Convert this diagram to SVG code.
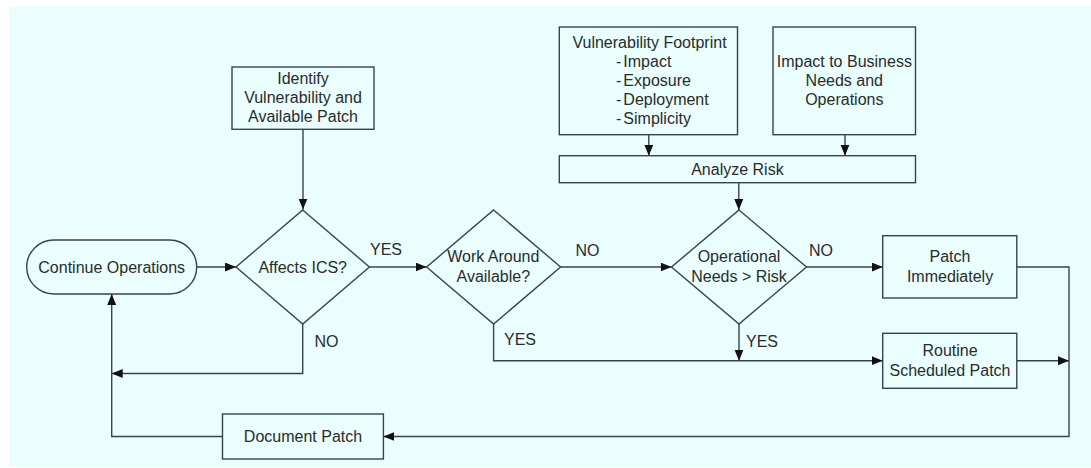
<svg xmlns="http://www.w3.org/2000/svg" width="1091" height="468" viewBox="0 0 1091 468">
<defs>
<marker id="arr" markerUnits="userSpaceOnUse" markerWidth="12" markerHeight="10" refX="11" refY="4.5" orient="auto">
<path d="M0,0 L11,4.5 L0,9 z" fill="#111"/>
</marker>
<style>
.bx{fill:#EAFEFE;stroke:#3a4250;stroke-width:1.4}
.ln{fill:none;stroke:#3a4250;stroke-width:1.4}
.ar{marker-end:url(#arr)}
text{font-family:"Liberation Sans",Arial,sans-serif;font-size:16px;fill:#2b2b2b}
.c{text-anchor:middle}
</style>
</defs>
<rect x="9" y="6" width="1082" height="461" fill="#EAFEFE"/>
<g id="connectors">
<path class="ln ar" d="M303,129.3 V209.5"/>
<path class="ln ar" d="M196.7,267 H236"/>
<path class="ln ar" d="M369.4,267 H426.6"/>
<path class="ln ar" d="M560.6,267 H671.5"/>
<path class="ln ar" d="M806.5,267 H882.7"/>
<path class="ln ar" d="M648.8,134.7 V155.7"/>
<path class="ln ar" d="M845,134.7 V155.7"/>
<path class="ln ar" d="M738.8,182.7 V210"/>
<path class="ln ar" d="M302.7,324 V373.5 H111.7"/>
<path class="ln ar" d="M222.5,436.5 H111.7 V294"/>
<path class="ln ar" d="M493.6,324 V360.7 H882.7"/>
<path class="ln ar" d="M739,324 V360.7"/>
<path class="ln ar" d="M1016.8,267 H1069 V436.5 H383.4"/>
<path class="ln ar" d="M1016.8,360.7 H1069"/>
<text x="370" y="255">YES</text>
<text x="575.5" y="256">NO</text>
<text x="809" y="255.5">NO</text>
<text x="314.5" y="347">NO</text>
<text x="504" y="344.5">YES</text>
<text x="746" y="347">YES</text>
</g>
<g id="identify">
<rect class="bx" x="232" y="67" width="142" height="62.3"/>
<text class="c" x="303" y="83.5">Identify</text>
<text class="c" x="303" y="102.5">Vulnerability and</text>
<text class="c" x="303" y="121.5">Available Patch</text>
</g>
<g id="footprint">
<rect class="bx" x="559.3" y="27" width="178.2" height="107.7"/>
<text class="c" x="649.5" y="48">Vulnerability Footprint</text>
<text x="616" y="67">-<tspan dx="2">Impact</tspan></text>
<text x="616" y="86">-<tspan dx="2">Exposure</tspan></text>
<text x="616" y="105">-<tspan dx="2">Deployment</tspan></text>
<text x="616" y="124">-<tspan dx="2">Simplicity</tspan></text>
</g>
<g id="impact">
<rect class="bx" x="773" y="27" width="142.5" height="107.7"/>
<text class="c" x="844.3" y="67">Impact to Business</text>
<text class="c" x="844.3" y="86">Needs and</text>
<text class="c" x="844.3" y="105">Operations</text>
</g>
<g id="analyze">
<rect class="bx" x="559.3" y="155.7" width="356.2" height="27"/>
<text class="c" x="737.4" y="174.5">Analyze Risk</text>
</g>
<g id="continue">
<rect class="bx" x="26.7" y="240" width="170" height="54" rx="27" ry="27"/>
<text class="c" x="111.7" y="272.5">Continue Operations</text>
</g>
<g id="affects">
<polygon class="bx" points="302.7,210 369.4,267 302.7,324 236,267"/>
<text class="c" x="302.7" y="272.5">Affects ICS?</text>
</g>
<g id="workaround">
<polygon class="bx" points="493.6,210 560.6,267 493.6,324 426.6,267"/>
<text class="c" x="493.3" y="261.5">Work Around</text>
<text class="c" x="493.3" y="281.5">Available?</text>
</g>
<g id="operational">
<polygon class="bx" points="739,210 806.5,267 739,324 671.5,267"/>
<text class="c" x="739" y="262">Operational</text>
<text class="c" x="739" y="281.5">Needs &gt; Risk</text>
</g>
<g id="patchnow">
<rect class="bx" x="882.7" y="235.7" width="134.1" height="62.3"/>
<text class="c" x="950" y="262">Patch</text>
<text class="c" x="950" y="282">Immediately</text>
</g>
<g id="routine">
<rect class="bx" x="882.7" y="333.3" width="134.1" height="55"/>
<text class="c" x="950" y="356">Routine</text>
<text class="c" x="950" y="375.5">Scheduled Patch</text>
</g>
<g id="document">
<rect class="bx" x="222.5" y="414" width="160.9" height="45"/>
<text class="c" x="303" y="442">Document Patch</text>
</g>
</svg>
